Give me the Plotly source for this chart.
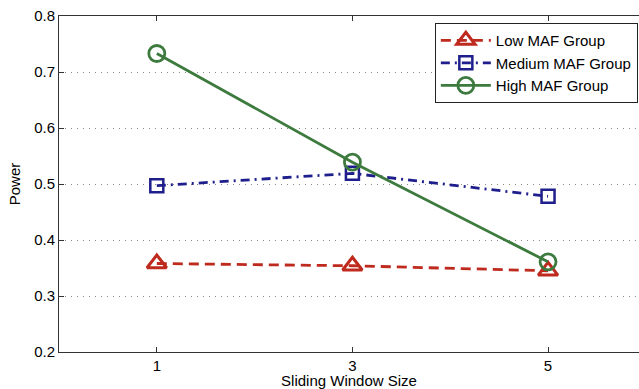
import plotly.graph_objects as go

window_sizes = [1, 3, 5]
low_maf = [0.358, 0.354, 0.345]
medium_maf = [0.497, 0.519, 0.478]
high_maf = [0.733, 0.539, 0.361]
series_names = ["Low MAF Group", "Medium MAF Group", "High MAF Group"]
y_ticks = [0.2, 0.3, 0.4, 0.5, 0.6, 0.7, 0.8]

FONT = "Liberation Sans, Arial, Helvetica, sans-serif"

fig = go.Figure()
fig.add_trace(go.Scatter(
    x=window_sizes, y=low_maf, name=series_names[0], mode="lines+markers",
    line=dict(color="#BF2A1E", width=2.8, dash="10px,6px"),
    marker=dict(symbol="triangle-up-open", size=17, color="#BF2A1E",
                line=dict(width=3, color="#BF2A1E")),
))
fig.add_trace(go.Scatter(
    x=window_sizes, y=medium_maf, name=series_names[1], mode="lines+markers",
    line=dict(color="#1E1E8C", width=2.8, dash="9px,5px,2px,5px"),
    marker=dict(symbol="square-open", size=13, color="#1E1E8C",
                line=dict(width=2.5, color="#1E1E8C")),
))
fig.add_trace(go.Scatter(
    x=window_sizes, y=high_maf, name=series_names[2], mode="lines+markers",
    line=dict(color="#3C7A3E", width=2.8),
    marker=dict(symbol="circle-open", size=16, color="#3C7A3E",
                line=dict(width=2.8, color="#3C7A3E")),
))

fig.update_layout(
    width=639, height=389,
    margin=dict(l=59, r=0, t=16, b=37),
    paper_bgcolor="white", plot_bgcolor="white",
    font=dict(family=FONT, size=15, color="black"),
    showlegend=True,
    legend=dict(
        x=0.648, y=0.979, xanchor="left", yanchor="top",
        bgcolor="white", bordercolor="#222", borderwidth=1,
        font=dict(family=FONT, size=15, color="black"),
        itemwidth=50, tracegroupgap=0,
    ),
    xaxis=dict(
        range=[0, 5.93], tickvals=window_sizes, ticktext=[str(v) for v in window_sizes],
        ticks="inside", ticklen=5, tickcolor="#333", showgrid=False, zeroline=False,
        showline=True, linecolor="#333", linewidth=1, mirror="allticks",
        automargin=False,
        title=dict(text="Sliding Window Size", standoff=8, font=dict(size=15)),
        tickfont=dict(size=15),
    ),
    yaxis=dict(
        range=[0.2, 0.8], tickvals=y_ticks, tickformat=".1f",
        ticks="inside", ticklen=5, tickcolor="#333",
        showgrid=True, gridcolor="#888", griddash="1px,5px", gridwidth=1,
        zeroline=False, showline=True, linecolor="#333", linewidth=1, mirror=False,
        automargin=False,
        title=dict(text="Power", standoff=9, font=dict(size=15)),
        tickfont=dict(size=15),
    ),
)

fig.write_html("out.html")
